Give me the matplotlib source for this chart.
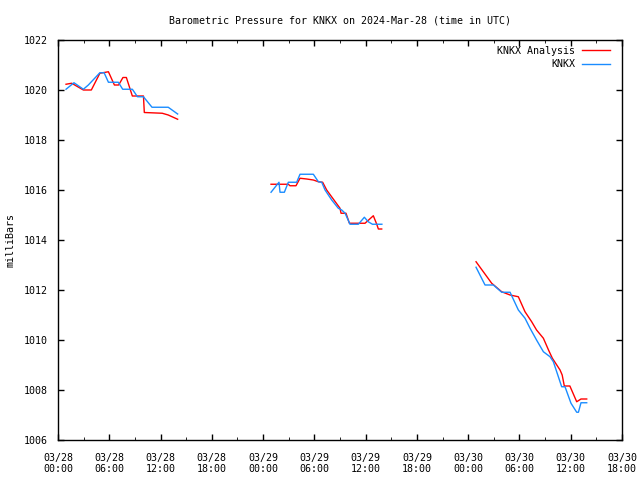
import numpy as np
import matplotlib.pyplot as plt
import matplotlib.dates as mdates
from datetime import datetime, timedelta

# hours since 2024-03-28 00:00 UTC, pressure in mb
ana_hours = [0.94, 1.6, 2.97, 3.9, 4.9, 5.9, 6.6, 7.1, 7.6, 8.0, 8.7, 10.0, 10.1, 12.2, 12.9, 14.0,
             None,
             24.93, 25.86, 26.95, 27.15, 27.85, 28.32, 29.1, 29.88, 30.47, 30.97, 31.44, 33.0, 33.12,
             33.7, 34.1, 35.93, 36.9, 37.3, 37.49, 37.88,
             None,
             48.92, 50.75, 51.92, 52.9, 53.87, 54.65, 55.43, 56.0, 56.8, 57.4, 57.85, 58.75, 59.0,
             59.25, 59.9, 60.7, 61.2, 61.87]
ana_vals = [1020.23, 1020.27, 1020.0, 1020.0, 1020.67, 1020.73, 1020.2, 1020.2, 1020.5, 1020.5,
            1019.76, 1019.76, 1019.1, 1019.07, 1019.0, 1018.83,
            None,
            1016.23, 1016.23, 1016.23, 1016.17, 1016.17, 1016.47, 1016.44, 1016.4, 1016.33, 1016.31,
            1016.0, 1015.27, 1015.07, 1015.07, 1014.67, 1014.67, 1014.97, 1014.63, 1014.44, 1014.44,
            None,
            1013.13, 1012.27, 1011.93, 1011.8, 1011.73, 1011.13, 1010.73, 1010.4, 1010.07, 1009.6,
            1009.27, 1008.8, 1008.6, 1008.16, 1008.16, 1007.53, 1007.64, 1007.64]

obs_hours = [0.94, 1.87, 2.97, 3.55, 4.9, 5.4, 5.9, 7.06, 7.57, 8.7, 9.3, 10.0, 11.0, 12.9, 14.0,
             None,
             24.93, 25.86, 25.98, 26.49, 26.95, 27.93, 28.32, 29.88, 30.47, 30.86, 31.25, 32.03, 32.8,
             33.2, 33.6, 34.17, 35.15, 35.85, 36.3, 36.8, 37.9,
             None,
             48.92, 49.97, 50.95, 51.92, 52.9, 53.87, 54.65, 55.24, 56.0, 56.8, 57.58, 57.97, 58.94,
             59.33, 60.03, 60.7, 60.9, 61.2, 61.87]
obs_vals = [1020.03, 1020.29, 1020.03, 1020.2, 1020.69, 1020.69, 1020.31, 1020.31, 1020.03, 1020.03,
            1019.73, 1019.73, 1019.31, 1019.31, 1019.04,
            None,
            1015.91, 1016.31, 1015.91, 1015.91, 1016.31, 1016.31, 1016.63, 1016.63, 1016.33, 1016.31,
            1016.0, 1015.6, 1015.27, 1015.2, 1015.07, 1014.63, 1014.63, 1014.91, 1014.73, 1014.63,
            1014.63,
            None,
            1012.91, 1012.2, 1012.2, 1011.91, 1011.91, 1011.2, 1010.87, 1010.47, 1010.0, 1009.53,
            1009.33, 1009.13, 1008.13, 1008.13, 1007.47, 1007.11, 1007.11, 1007.49, 1007.49]

t0 = datetime(2024, 3, 28)


def to_series(hours, vals):
    # None marks a gap in the record
    t = [t0 + timedelta(hours=h) if h is not None else t0 for h in hours]
    v = np.array([np.nan if x is None else x for x in vals])
    return t, v


plt.rcParams['font.family'] = 'DejaVu Sans Mono'
plt.rcParams['font.size'] = 7.2

fig = plt.figure(figsize=(6.4, 4.8), dpi=100)
ax = fig.add_axes([58 / 640, 40 / 480, 564 / 640, 400 / 480])

ta, va = to_series(ana_hours, ana_vals)
to, vo = to_series(obs_hours, obs_vals)
ax.plot(ta, va, color='#ff0000', lw=1, label='KNKX Analysis')
ax.plot(to, vo, color='#1a8cff', lw=1, label='KNKX')

ax.set_xlim(t0, t0 + timedelta(hours=66))
ax.set_ylim(1006, 1022)
ax.set_yticks(np.arange(1006, 1023, 2))
ax.xaxis.set_major_locator(mdates.HourLocator(byhour=[0, 6, 12, 18]))
ax.xaxis.set_minor_locator(mdates.HourLocator(byhour=[3, 9, 15, 21]))
ax.xaxis.set_major_formatter(mdates.DateFormatter('%m/%d\n%H:%M'))
ax.tick_params(direction='in', top=True, right=True, length=4, width=1)
ax.tick_params(axis='x', pad=9)
ax.tick_params(axis='y', pad=7)
ax.tick_params(which='minor', direction='in', top=True, length=2)
for s in ax.spines.values():
    s.set_linewidth(1)

ax.set_ylabel('milliBars')
ax.yaxis.set_label_coords(-0.076, 0.5)
ax.set_title('Barometric Pressure for KNKX on 2024-Mar-28 (time in UTC)', fontsize=7.2, pad=12)
ax.legend(loc='upper right', frameon=False, markerfirst=False, handlelength=2.8,
          borderaxespad=0.4, borderpad=0.2, labelspacing=0.35, handletextpad=0.7,
          bbox_to_anchor=(0.99, 1.0))

fig.savefig('out.png', dpi=100)
